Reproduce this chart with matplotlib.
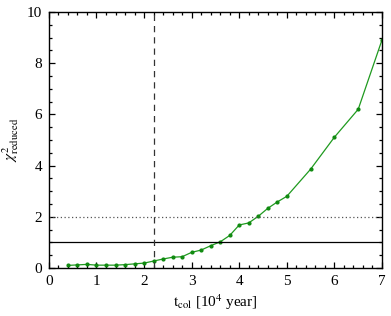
import numpy as np
import matplotlib
matplotlib.use('Agg')
import matplotlib.pyplot as plt

# chi^2 reduced vs collision time
t_col = [0.4, 0.6, 0.8, 1.0, 1.2, 1.4, 1.6, 1.8, 2.0, 2.2, 2.4, 2.6, 2.8,
         3.0, 3.2, 3.4, 3.6, 3.8, 4.0, 4.2, 4.4, 4.6, 4.8, 5.0, 5.5, 6.0, 6.5, 7.0]
chi2 = [0.10, 0.12, 0.14, 0.11, 0.11, 0.11, 0.13, 0.16, 0.19, 0.27, 0.35, 0.42, 0.44,
        0.61, 0.70, 0.87, 1.02, 1.27, 1.68, 1.76, 2.02, 2.33, 2.58, 2.80, 3.86, 5.11, 6.20, 8.91]
t_mark = 2.2

plt.rcParams['font.family'] = ['Liberation Serif', 'DejaVu Serif']
plt.rcParams['mathtext.fontset'] = 'stix'

fig = plt.figure(figsize=(3.91, 3.16), dpi=100)
ax = fig.add_axes([0.125, 0.152, 0.852, 0.810])

ax.plot(t_col, chi2, '-', color='#1f9a1f', lw=0.9, marker='o', ms=2.0, mec='#108a10', mfc='#108a10')
ax.axhline(1, color='black', lw=0.9)
ax.axhline(2, color='#555555', lw=0.9, ls=(0, (1, 2)))
ax.axvline(t_mark, color='#333333', lw=0.9, ls=(0, (5, 4)))

ax.set_xlim(0, 7)
ax.set_ylim(0, 10)
ax.set_xticks(np.arange(0, 8, 1))
ax.set_yticks(np.arange(0, 11, 2))
ax.set_xticks(np.arange(0, 7.01, 0.2), minor=True)
ax.set_yticks(np.arange(0, 10.01, 0.5), minor=True)
ax.tick_params(which='both', direction='in', top=True, right=True, labelsize=11, width=0.9)
ax.tick_params(which='major', length=4, pad=5)
ax.tick_params(which='minor', length=2)
for s in ax.spines.values():
    s.set_linewidth(1.0)

ax.set_xlabel(r'$\rm t_{col}$ [10$^4$ year]', fontsize=11, labelpad=3)
ax.set_ylabel(r'$\chi^2_{\rm reduced}$', fontsize=11, labelpad=4)

fig.savefig('out.png', dpi=100)
